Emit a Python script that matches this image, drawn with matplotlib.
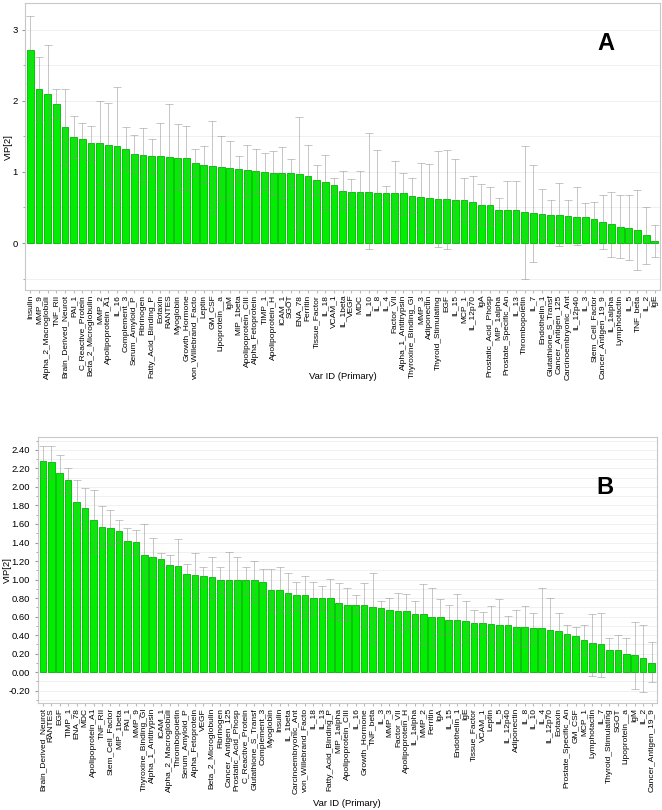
import numpy as np
import matplotlib
matplotlib.use("Agg")
import matplotlib.pyplot as plt
from matplotlib.ticker import MultipleLocator, FormatStrFormatter

plt.rcParams['font.family'] = ['Liberation Sans', 'DejaVu Sans']

# Panel A
labels_a = ["Insulin", "MMP_9", "Alpha_2_Macroglobuli", "TNF_RII", "Brain_Derived_Neurot",
            "PAI_1", "C_Reactive_Protein", "Beta_2_Microglobulin", "MMP_2", "Apolipoprotein_A1",
            "IL_16", "Complement_3", "Serum_Amyloid_P", "Fibrinogen", "Fatty_Acid_Binding_P",
            "Eotaxin", "RANTES", "Myoglobin", "Growth_Hormone", "von_Willebrand_Facto",
            "Leptin", "GM_CSF", "Lipoprotein__a", "IgM", "MIP_1beta",
            "Apolipoprotein_CIII", "Alpha_Fetoprotein", "TIMP_1", "Apolipoprotein_H", "ICAM_1",
            "SGOT", "ENA_78", "Ferritin", "Tissue_Factor", "IL_18",
            "VCAM_1", "IL_1beta", "VEGF", "MDC", "IL_10",
            "IL_8", "IL_4", "Factor_VII", "Alpha_1_Antitrypsin", "Thyroxine_Binding_Gl",
            "MMP_3", "Adiponectin", "Thyroid_Stimulating", "EGF", "IL_15",
            "MCP_1", "IL_12p70", "IgA", "Prostatic_Acid_Phosp", "MIP_1alpha",
            "Prostate_Specific_An", "IL_13", "Thrombopoietin", "IL_7", "Endothelin_1",
            "Glutathione_S_Transf", "Cancer_Antigen_125", "Carcinoembryonic_Ant", "IL_12p40", "IL_3",
            "Stem_Cell_Factor", "Cancer_Antigen_19_9", "IL_1alpha", "Lymphotactin", "IL_5",
            "TNF_beta", "IL_2", "IgE"]
vip_a = [2.71, 2.17, 2.10, 1.95, 1.63, 1.49, 1.46, 1.41, 1.40, 1.38,
         1.36, 1.32, 1.25, 1.24, 1.22, 1.22, 1.21, 1.20, 1.20, 1.13,
         1.10, 1.08, 1.07, 1.05, 1.04, 1.02, 1.01, 1.00, 0.98, 0.98,
         0.98, 0.97, 0.94, 0.89, 0.86, 0.82, 0.73, 0.72, 0.72, 0.72,
         0.71, 0.70, 0.70, 0.70, 0.66, 0.65, 0.63, 0.62, 0.62, 0.61,
         0.61, 0.57, 0.54, 0.53, 0.47, 0.47, 0.46, 0.43, 0.42, 0.41,
         0.40, 0.40, 0.38, 0.37, 0.36, 0.34, 0.29, 0.27, 0.23, 0.21,
         0.18, 0.11, 0.03]
hi_a = [3.19, 2.62, 2.78, 2.17, 2.17, 1.78, 1.68, 1.65, 1.99, 1.97,
        2.19, 1.63, 1.52, 1.61, 1.46, 1.69, 1.95, 1.67, 1.64, 1.32,
        1.36, 1.72, 1.51, 1.44, 1.23, 1.38, 1.32, 1.27, 1.30, 1.35,
        1.18, 1.77, 1.38, 1.10, 1.24, 0.91, 1.01, 0.90, 1.01, 1.54,
        1.31, 0.80, 1.15, 0.99, 0.91, 1.12, 1.11, 1.29, 1.31, 1.18,
        0.91, 0.94, 0.83, 0.79, 0.63, 0.87, 0.87, 1.37, 1.09, 0.76,
        0.61, 0.84, 0.60, 0.79, 0.56, 0.57, 0.67, 0.72, 0.68, 0.67,
        0.74, 0.50, 0.25]
lo_a = [2.24, 1.73, 1.45, 1.74, 1.10, 1.18, 1.22, 1.17, 0.83, 0.80,
        0.56, 1.02, 0.99, 0.86, 0.99, 0.74, 0.46, 0.74, 0.74, 0.94,
        0.84, 0.44, 0.61, 0.65, 0.85, 0.65, 0.71, 0.74, 0.68, 0.62,
        0.79, 0.20, 0.52, 0.68, 0.48, 0.72, 0.48, 0.55, 0.43, -0.09,
        0.10, 0.60, 0.24, 0.41, 0.43, 0.20, 0.14, -0.05, -0.08, 0.04,
        0.31, 0.18, 0.27, 0.27, 0.32, 0.08, 0.05, -0.50, -0.27, 0.05,
        0.20, -0.04, 0.18, -0.03, 0.18, 0.11, -0.09, -0.20, -0.21, -0.24,
        -0.38, -0.29, -0.19]

# Panel B
labels_b = ["Brain_Derived_Neurot", "RANTES", "EGF", "TIMP_1", "ENA_78",
            "MDC", "Apolipoprotein_A1", "TNF_RII", "Stem_Cell_Factor", "MIP_1beta",
            "PAI_1", "MMP_9", "Thyroxine_Binding_Gl", "Alpha_1_Antitrypsin", "ICAM_1",
            "Alpha_2_Macroglobuli", "Thrombopoietin", "Serum_Amyloid_P", "Alpha_Fetoprotein", "VEGF",
            "Beta_2_Microglobulin", "Fibrinogen", "Cancer_Antigen_125", "Prostatic_Acid_Phosp", "C_Reactive_Protein",
            "Glutathione_S_Transf", "Complement_3", "Myoglobin", "Insulin", "IL_1beta",
            "Carcinoembryonic_Ant", "von_Willebrand_Facto", "IL_18", "IL_13", "Fatty_Acid_Binding_P",
            "MIP_1alpha", "Apolipoprotein_CIII", "IL_16", "Growth_Hormone", "TNF_beta",
            "IL_3", "MMP_3", "Factor_VII", "Apolipoprotein_H", "IL_1alpha",
            "MMP_2", "Ferritin", "IgA", "IL_15", "Endothelin_1",
            "IgE", "Tissue_Factor", "VCAM_1", "Leptin", "IL_5",
            "IL_12p40", "Adiponectin", "IL_8", "IL_10", "IL_4",
            "IL_12p70", "Eotaxin", "Prostate_Specific_An", "GM_CSF", "MCP_1",
            "Lymphotactin", "IL_7", "Thyroid_Stimulating", "SGOT", "Lipoprotein__a",
            "IgM", "IL_2", "Cancer_Antigen_19_9"]
vip_b = [2.28, 2.27, 2.15, 2.07, 1.84, 1.77, 1.64, 1.57, 1.56, 1.52,
         1.42, 1.41, 1.27, 1.24, 1.22, 1.16, 1.15, 1.06, 1.05, 1.04,
         1.03, 1.00, 1.00, 0.99, 0.99, 0.99, 0.97, 0.89, 0.89, 0.85,
         0.83, 0.83, 0.80, 0.80, 0.80, 0.75, 0.73, 0.73, 0.72, 0.70,
         0.69, 0.67, 0.66, 0.66, 0.63, 0.63, 0.60, 0.59, 0.56, 0.56,
         0.55, 0.53, 0.53, 0.52, 0.51, 0.51, 0.49, 0.49, 0.48, 0.48,
         0.45, 0.44, 0.41, 0.39, 0.35, 0.31, 0.30, 0.24, 0.24, 0.19,
         0.18, 0.15, 0.10]
hi_b = [2.44, 2.44, 2.35, 2.20, 2.07, 1.99, 1.97, 1.79, 1.75, 1.64,
        1.56, 1.53, 1.60, 1.45, 1.29, 1.27, 1.44, 1.17, 1.29, 1.14,
        1.24, 1.14, 1.30, 1.24, 1.13, 1.20, 1.11, 1.11, 1.13, 1.07,
        0.97, 1.04, 0.97, 0.93, 1.01, 0.96, 0.91, 0.83, 0.96, 1.07,
        0.77, 0.80, 0.85, 0.84, 0.77, 0.95, 0.91, 0.79, 0.73, 0.84,
        0.77, 0.67, 0.65, 0.71, 0.79, 0.61, 0.67, 0.71, 0.64, 0.91,
        0.80, 0.64, 0.51, 0.49, 0.51, 0.63, 0.64, 0.37, 0.40, 0.37,
        0.54, 0.51, 0.32]
lo_b = [2.12, 2.10, 1.95, 1.93, 1.60, 1.56, 1.30, 1.35, 1.37, 1.39,
        1.27, 1.28, 0.93, 1.04, 1.13, 1.04, 0.85, 0.95, 0.80, 0.93,
        0.80, 0.85, 0.69, 0.75, 0.84, 0.76, 0.84, 0.67, 0.65, 0.64,
        0.67, 0.61, 0.63, 0.67, 0.59, 0.55, 0.55, 0.64, 0.49, 0.33,
        0.61, 0.53, 0.45, 0.47, 0.50, 0.30, 0.28, 0.40, 0.41, 0.29,
        0.33, 0.40, 0.40, 0.33, 0.24, 0.41, 0.33, 0.27, 0.33, 0.11,
        0.12, 0.25, 0.29, 0.27, 0.19, -0.04, -0.05, 0.11, 0.08, 0.01,
        -0.18, -0.21, -0.11]


def draw_panel(ax, labels, vip, lo, hi):
    x = np.arange(len(labels))
    vip = np.array(vip)
    yerr = [np.maximum(vip - np.array(lo), 0), np.maximum(np.array(hi) - vip, 0)]
    ax.bar(x, vip, width=0.78, color="#00ee00", edgecolor="#00b400", linewidth=0.6, zorder=2)
    ax.errorbar(x, vip, yerr=yerr, fmt="none", ecolor="#8c8c8c", alpha=0.5,
                elinewidth=0.7, capsize=3.2, capthick=0.7, zorder=3)
    ax.set_xlim(-0.6, len(labels) - 0.4)
    ax.set_xticks(x)
    ax.set_xticklabels(labels, rotation=90, fontsize=6.0)
    ax.tick_params(axis="x", length=2, pad=1.5, color="#bbbbbb")
    ax.tick_params(axis="y", labelsize=6.8, length=2, color="#999999")
    ax.tick_params(axis="y", which="minor", length=1.5, color="#999999")
    ax.grid(axis="y", which="both", color="#eeeeee", linewidth=0.6, zorder=0)
    ax.set_axisbelow(True)
    for s in ax.spines.values():
        s.set_color("#c8c8c8")
        s.set_linewidth(0.8)


fig = plt.figure(figsize=(6.62, 8.10), dpi=100)

ax1 = fig.add_axes([0.038, 0.642, 0.959, 0.354])
draw_panel(ax1, labels_a, vip_a, lo_a, hi_a)
ax1.set_ylim(-0.66, 3.37)
ax1.yaxis.set_major_locator(MultipleLocator(1))
ax1.yaxis.set_minor_locator(MultipleLocator(0.5))
ax1.set_ylabel("VIP[2]", fontsize=6.8)
ax1.yaxis.set_label_coords(-0.02, 0.5)
ax1.set_xlabel("Var ID (Primary)", fontsize=6.8)
ax1.xaxis.set_label_coords(0.5, -0.286)
ax1.text(0.915, 0.86, "A", transform=ax1.transAxes, fontsize=17, fontweight="bold",
         ha="center", va="center")

ax2 = fig.add_axes([0.057, 0.132, 0.935, 0.3285])
draw_panel(ax2, labels_b, vip_b, lo_b, hi_b)
ax2.set_ylim(-0.335, 2.54)
ax2.yaxis.set_major_locator(MultipleLocator(0.2))
ax2.yaxis.set_minor_locator(MultipleLocator(0.1))
ax2.yaxis.set_major_formatter(FormatStrFormatter("%.2f"))
ax2.set_ylabel("VIP[2]", fontsize=6.8)
ax2.yaxis.set_label_coords(-0.042, 0.5)
ax2.set_xlabel("Var ID (Primary)", fontsize=6.8)
ax2.xaxis.set_label_coords(0.5, -0.362)
ax2.text(0.917, 0.81, "B", transform=ax2.transAxes, fontsize=17, fontweight="bold",
         ha="center", va="center")

fig.savefig("out.png", dpi=100)
